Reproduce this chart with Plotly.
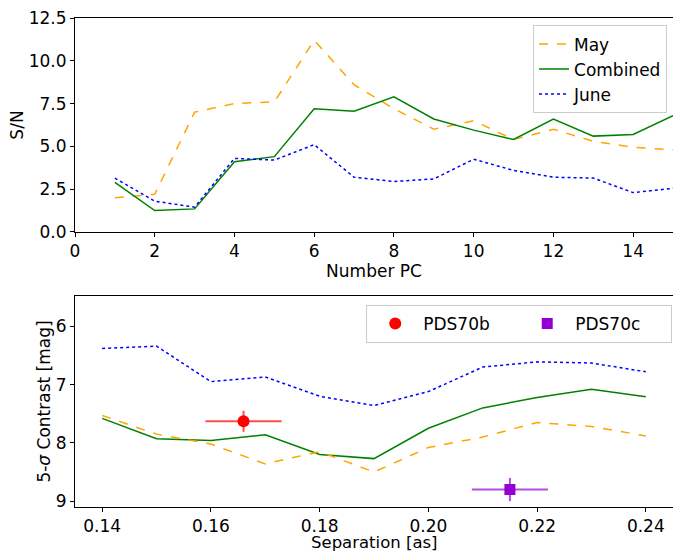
import plotly.graph_objects as go
from plotly.subplots import make_subplots

npc = list(range(1, 16))
sn_may = [2.0, 2.2, 7.0, 7.5, 7.6, 11.2, 8.6, 7.2, 6.0, 6.5, 5.4, 6.0, 5.3, 4.95, 4.8]
sn_comb = [2.9, 1.25, 1.35, 4.1, 4.4, 7.2, 7.05, 7.9, 6.6, 5.95, 5.4, 6.6, 5.6, 5.7, 6.8]
sn_june = [3.15, 1.8, 1.45, 4.3, 4.2, 5.1, 3.2, 2.95, 3.1, 4.25, 3.6, 3.2, 3.15, 2.3, 2.55]

sep = [0.14, 0.15, 0.16, 0.17, 0.18, 0.19, 0.20, 0.21, 0.22, 0.23, 0.24]
ct_june = [6.38, 6.34, 6.95, 6.87, 7.2, 7.36, 7.12, 6.7, 6.61, 6.63, 6.78]
ct_comb = [7.58, 7.93, 7.96, 7.86, 8.2, 8.27, 7.75, 7.4, 7.22, 7.08, 7.21]
ct_may = [7.53, 7.85, 8.02, 8.36, 8.15, 8.5, 8.08, 7.9, 7.65, 7.72, 7.88]

b_sep, b_con, b_xerr, b_yerr = [0.166], [7.63], [0.007], [0.18]
c_sep, c_con, c_xerr, c_yerr = [0.215], [8.80], [0.007], [0.2]

FONT = "DejaVu Sans"
FS = 17
fig = make_subplots(rows=2, cols=1)

fig.add_trace(go.Scatter(x=npc, y=sn_may, mode="lines", name="May",
                         line=dict(color="orange", dash="dash", width=1.5), legend="legend"), row=1, col=1)
fig.add_trace(go.Scatter(x=npc, y=sn_comb, mode="lines", name="Combined",
                         line=dict(color="green", width=1.5), legend="legend"), row=1, col=1)
fig.add_trace(go.Scatter(x=npc, y=sn_june, mode="lines", name="June",
                         line=dict(color="blue", dash="dot", width=1.5), legend="legend"), row=1, col=1)

fig.add_trace(go.Scatter(x=sep, y=ct_june, mode="lines", showlegend=False,
                         line=dict(color="blue", dash="dot", width=1.5)), row=2, col=1)
fig.add_trace(go.Scatter(x=sep, y=ct_comb, mode="lines", showlegend=False,
                         line=dict(color="green", width=1.5)), row=2, col=1)
fig.add_trace(go.Scatter(x=sep, y=ct_may, mode="lines", showlegend=False,
                         line=dict(color="orange", dash="dash", width=1.5)), row=2, col=1)
fig.add_trace(go.Scatter(x=b_sep, y=b_con, mode="markers", name="PDS70b", legend="legend2",
                         marker=dict(color="red", size=12, symbol="circle"),
                         error_x=dict(type="data", array=b_xerr, color="rgba(255,0,0,0.7)", thickness=2, width=0),
                         error_y=dict(type="data", array=b_yerr, color="rgba(255,0,0,0.7)", thickness=2, width=0)),
              row=2, col=1)
fig.add_trace(go.Scatter(x=c_sep, y=c_con, mode="markers", name="PDS70c", legend="legend2",
                         marker=dict(color="darkviolet", size=11, symbol="square"),
                         error_x=dict(type="data", array=c_xerr, color="rgba(148,0,211,0.7)", thickness=2, width=0),
                         error_y=dict(type="data", array=c_yerr, color="rgba(148,0,211,0.7)", thickness=2, width=0)),
              row=2, col=1)

axcommon = dict(showline=True, linecolor="black", linewidth=1, mirror=True, ticks="outside",
                ticklen=4, tickcolor="black", showgrid=False, zeroline=False,
                tickfont=dict(family=FONT, size=FS, color="black"))
tfont = dict(family=FONT, size=FS, color="black")

fig.update_xaxes(axcommon)
fig.update_yaxes(axcommon)
fig.update_xaxes(row=1, col=1, range=[0, 15], tickvals=[0, 2, 4, 6, 8, 10, 12, 14],
                 domain=[0, 1], title=dict(text="Number PC", font=tfont, standoff=0))
fig.update_yaxes(row=1, col=1, range=[0, 12.5], tickvals=[0, 2.5, 5, 7.5, 10, 12.5], tickformat=".1f",
                 domain=[0.5624, 1.0], title=dict(text="S/N", font=tfont, standoff=0))
fig.update_xaxes(row=2, col=1, range=[0.135, 0.245], tickvals=[0.14, 0.16, 0.18, 0.20, 0.22, 0.24],
                 tickformat=".2f", domain=[0, 1])
fig.update_yaxes(row=2, col=1, range=[9.1, 5.48], tickvals=[6, 7, 8, 9], domain=[0, 0.4315],
                 title=dict(text="5-<i>σ</i> Contrast [mag]", font=tfont, standoff=0))

fig.add_annotation(text="Separation [as]", xref="paper", yref="paper", x=0.5, y=-0.0941,
                   xanchor="center", yanchor="bottom", showarrow=False, borderpad=0,
                   font=dict(family=FONT, size=16.5, color="black"))

fig.update_layout(
    width=673, height=553,
    margin=dict(l=75, r=0, t=18, b=46),
    plot_bgcolor="white", paper_bgcolor="white",
    font=dict(family=FONT, size=FS, color="black"),
    legend=dict(x=0.99, y=0.985, xanchor="right", yanchor="top",
                bgcolor="white", bordercolor="#cccccc", borderwidth=1,
                tracegroupgap=0, font=dict(family=FONT, size=FS, color="black")),
    legend2=dict(x=0.487, y=0.413, xanchor="left", yanchor="top", orientation="h",
                 itemwidth=46, entrywidth=91, bgcolor="white", bordercolor="#cccccc", borderwidth=1,
                 font=dict(family=FONT, size=FS, color="black")),
)

fig.write_html("out.html")
